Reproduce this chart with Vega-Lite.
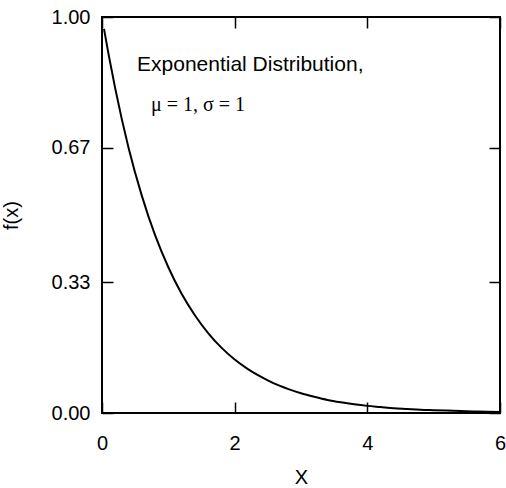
{
  "$schema": "https://vega.github.io/schema/vega-lite/v6.json",
  "width": 398,
  "height": 396,
  "autosize": "none",
  "padding": {"left": 102, "top": 17, "right": 6, "bottom": 75},
  "background": "white",
  "config": {
    "view": {"stroke": "black", "strokeWidth": 2},
    "axis": {
      "domain": false,
      "grid": false,
      "zindex": 1,
      "labelFlush": false,
      "labelOverlap": false,
      "tickColor": "black",
      "tickWidth": 1.5,
      "tickSize": -11,
      "labelFont": "Liberation Sans",
      "labelFontSize": 20,
      "labelColor": "black",
      "titleFont": "Liberation Sans",
      "titleFontSize": 20,
      "titleFontWeight": "normal",
      "titleColor": "black"
    }
  },
  "data": {
    "values": [
      {"x": 0.03, "fx": 0.970},
      {"x": 0.1, "fx": 0.905},
      {"x": 0.2, "fx": 0.819},
      {"x": 0.4, "fx": 0.670},
      {"x": 0.6, "fx": 0.549},
      {"x": 0.8, "fx": 0.449},
      {"x": 1.0, "fx": 0.368},
      {"x": 1.2, "fx": 0.301},
      {"x": 1.4, "fx": 0.247},
      {"x": 1.6, "fx": 0.202},
      {"x": 1.8, "fx": 0.165},
      {"x": 2.0, "fx": 0.135},
      {"x": 2.2, "fx": 0.111},
      {"x": 2.4, "fx": 0.091},
      {"x": 2.6, "fx": 0.074},
      {"x": 2.8, "fx": 0.061},
      {"x": 3.0, "fx": 0.050},
      {"x": 3.2, "fx": 0.041},
      {"x": 3.4, "fx": 0.033},
      {"x": 3.6, "fx": 0.027},
      {"x": 3.8, "fx": 0.022},
      {"x": 4.0, "fx": 0.018},
      {"x": 4.2, "fx": 0.015},
      {"x": 4.4, "fx": 0.012},
      {"x": 4.6, "fx": 0.010},
      {"x": 4.8, "fx": 0.008},
      {"x": 5.0, "fx": 0.007},
      {"x": 5.2, "fx": 0.006},
      {"x": 5.4, "fx": 0.005},
      {"x": 5.6, "fx": 0.004},
      {"x": 5.8, "fx": 0.003},
      {"x": 6.0, "fx": 0.0025}
    ]
  },
  "layer": [
    {
      "mark": {"type": "line", "color": "black", "strokeWidth": 2, "interpolate": "monotone"},
      "encoding": {
        "x": {
          "field": "x", "type": "quantitative", "title": "X",
          "scale": {"domain": [0, 6], "nice": false},
          "axis": {"orient": "bottom", "values": [0, 2, 4, 6], "labelPadding": 31, "titlePadding": 14}
        },
        "y": {
          "field": "fx", "type": "quantitative", "title": "f(x)",
          "scale": {"domain": [0, 1], "nice": false},
          "axis": {"orient": "left", "values": [0, 0.33, 0.67, 1.0], "format": ".2f", "labelPadding": 23, "titlePadding": 30}
        }
      }
    },
    {
      "mark": {"type": "line", "opacity": 0},
      "encoding": {
        "x": {
          "field": "x", "type": "quantitative",
          "axis": {"orient": "top", "values": [0, 2, 4, 6], "labels": false, "title": null}
        },
        "y": {
          "field": "fx", "type": "quantitative",
          "axis": {"orient": "right", "values": [0, 0.33, 0.67, 1.0], "labels": false, "title": null}
        }
      }
    },
    {
      "data": {"values": [{}]},
      "mark": {"type": "text", "text": "Exponential Distribution,", "align": "left", "baseline": "alphabetic", "font": "Liberation Sans", "fontSize": 21, "color": "black"},
      "encoding": {
        "x": {"datum": 0.528, "type": "quantitative", "axis": null},
        "y": {"datum": 0.864, "type": "quantitative", "axis": null}
      }
    },
    {
      "data": {"values": [{}]},
      "mark": {"type": "text", "text": "μ = 1, σ = 1", "align": "left", "baseline": "alphabetic", "font": "Liberation Serif", "fontSize": 20, "color": "black"},
      "encoding": {
        "x": {"datum": 0.739, "type": "quantitative", "axis": null},
        "y": {"datum": 0.763, "type": "quantitative", "axis": null}
      }
    }
  ],
  "resolve": {"axis": {"x": "independent", "y": "independent"}}
}
